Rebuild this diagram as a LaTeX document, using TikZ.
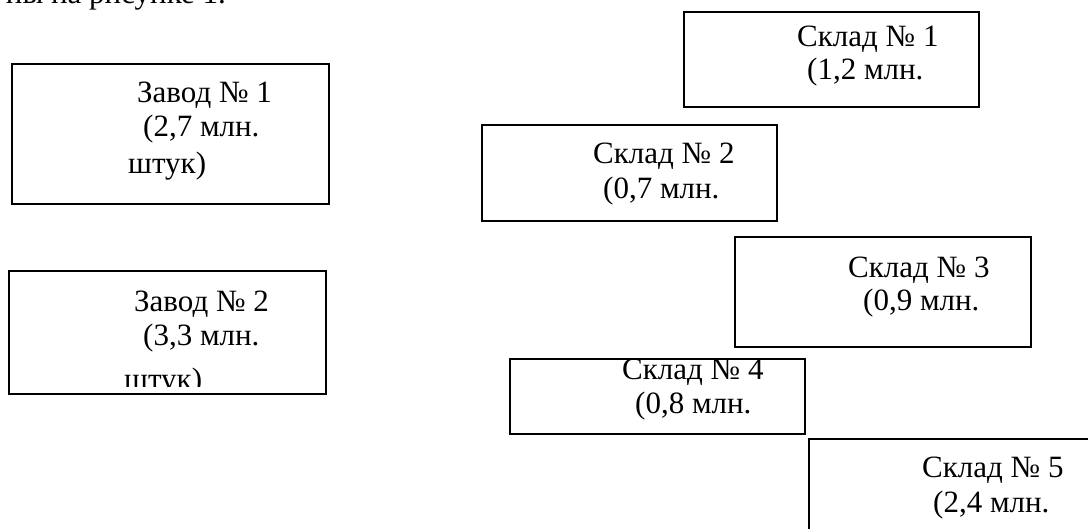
\documentclass[tikz,border=0pt]{standalone}
\usepackage{fontspec}
\setmainfont{Liberation Serif}

\begin{document}
\begin{tikzpicture}[x=1pt, y=-1pt,
    every node/.style={inner sep=0pt, font=\fontsize{31}{36}\selectfont},
    box/.style={draw, line width=2pt, anchor=north west},
    txt/.style={anchor=base west}]
  \useasboundingbox (0,0) rectangle (1088,528);
  \clip (0,0) rectangle (1088,528);
  % cut line of the text above
  \node[anchor=base east] (cap) at (226,3) {ны на рисунке 1.};
  % plants
  \node[box, minimum width=317pt, minimum height=140pt] (z1) at (11,63) {};
  \node[txt] (z1a) at (137,102) {Завод № 1};
  \node[txt] (z1b) at (143,136) {(2,7 млн.};
  \node[txt] (z1c) at (128,173) {штук)};
  \node[box, minimum width=317pt, minimum height=123pt] (z2) at (8,270) {};
  \node[txt] (z2a) at (134,311) {Завод № 2};
  \node[txt] (z2b) at (143,345) {(3,3 млн.};
  \begin{scope}
    \clip (0,0) rectangle (1088,386);
    \node[txt] (z2c) at (124,389) {штук)};
  \end{scope}
  % stores
  \node[box, minimum width=295pt, minimum height=95pt] (s1) at (683,11) {};
  \node[txt] (s1a) at (797,46) {Склад № 1};
  \node[txt] (s1b) at (807,79) {(1,2 млн.};
  \node[box, minimum width=295pt, minimum height=96pt] (s2) at (481,124) {};
  \node[txt] (s2a) at (593,163) {Склад № 2};
  \node[txt] (s2b) at (603,198) {(0,7 млн.};
  \node[box, minimum width=296pt, minimum height=110pt] (s3) at (734,236) {};
  \node[txt] (s3a) at (848,277) {Склад № 3};
  \node[txt] (s3b) at (863,310) {(0,9 млн.};
  \node[box, minimum width=295pt, minimum height=75pt] (s4) at (509,358) {};
  \node[txt] (s4a) at (622,379) {Склад № 4};
  \node[txt] (s4b) at (635,413) {(0,8 млн.};
  \node[box, minimum width=300pt, minimum height=120pt] (s5) at (808,438) {};
  \node[txt] (s5a) at (922,477) {Склад № 5};
  \node[txt] (s5b) at (933,512) {(2,4 млн.};
\end{tikzpicture}
\end{document}
